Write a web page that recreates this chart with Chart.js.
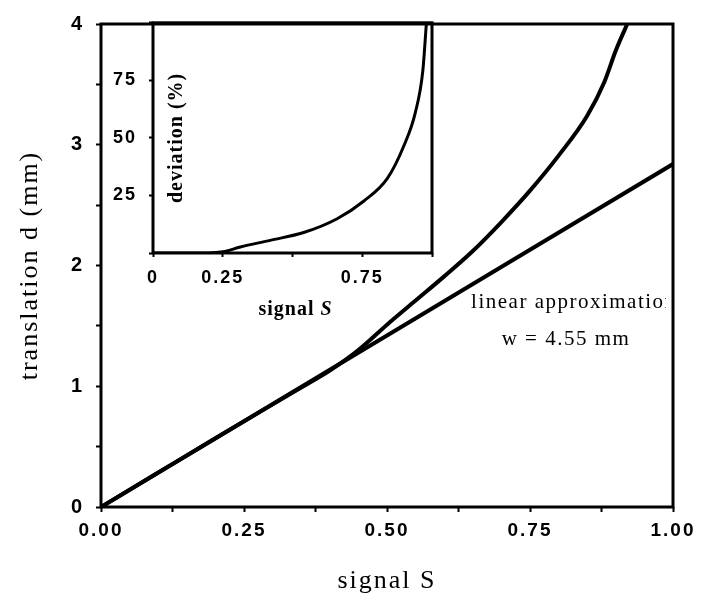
<!DOCTYPE html>
<html>
<head>
<meta charset="utf-8">
<script src="https://cdn.jsdelivr.net/npm/chart.js@4/dist/chart.umd.min.js"></script>
<style>
  body { margin: 0; background: #fff; }
  #wrap { position: relative; width: 717px; height: 606px; }
  #main-chart { position: absolute; left: 0; top: 0; }
  #inset-chart { position: absolute; left: 100px; top: 0; }
</style>
</head>
<body>
<div id="wrap">
  <canvas id="main-chart" width="717" height="606"></canvas>
  <canvas id="inset-chart" width="350" height="330"></canvas>
</div>
<script>
// measured translation d (mm) against signal S
const signalS = [0, 0.1, 0.2, 0.3, 0.35, 0.4, 0.45, 0.5, 0.55, 0.6, 0.65, 0.7, 0.75, 0.8, 0.85, 0.88, 0.9, 0.92];
const translationD = [0, 0.285, 0.57, 0.85, 0.99, 1.13, 1.30, 1.51, 1.71, 1.91, 2.12, 2.36, 2.62, 2.91, 3.24, 3.52, 3.78, 4.0];

// linear approximation, w = 4.55 mm
const linearS = [0, 0.25, 0.5, 0.75, 1];
const linearD = [0, 0.71, 1.42, 2.13, 2.84];

// inset: deviation from the linear approximation (%)
const insetS = [0, 0.1, 0.2, 0.25, 0.313, 0.42, 0.54, 0.66, 0.756, 0.84, 0.9, 0.94, 0.967, 0.98];
const deviation = [0, 0, 0, 0.5, 2.6, 5.5, 8.9, 14.9, 22.6, 32.4, 46.8, 60.9, 79, 100];

// labelled ticks
const xLabelsMain = [0, 0.25, 0.5, 0.75, 1];
const yLabelsMain = [0, 1, 2, 3, 4];
const xLabelsInset = [0, 0.25, 0.75];
const yLabelsInset = [25, 50, 75];

const toPoints = (xs, ys) => xs.map((x, i) => ({ x: x, y: ys[i] }));

// old-style wide lettering for the axis text
const spacing = {
    id: 'spacing',
    beforeDraw(chart) {
        chart.ctx.letterSpacing = '2px';
    }
};

// box round the plot area
const frame = {
    id: 'frame',
    afterDatasetsDraw(chart, args, opts) {
        const { ctx, chartArea: a } = chart;
        ctx.save();
        ctx.strokeStyle = '#000';
        ctx.lineWidth = opts.width || 3;
        ctx.strokeRect(a.left, a.top, a.right - a.left, a.bottom - a.top);
        ctx.restore();
    }
};

// text placed at data coordinates, cut off at the right edge of the plot
const notes = {
    id: 'notes',
    afterDraw(chart, args, opts) {
        const { ctx, chartArea: a, scales: { x, y } } = chart;
        ctx.save();
        ctx.beginPath();
        ctx.rect(a.left, a.top, a.right - a.left - 7, a.bottom - a.top);
        ctx.clip();
        ctx.fillStyle = '#000';
        ctx.font = opts.font;
        ctx.letterSpacing = '1.5px';
        ctx.textBaseline = 'middle';
        opts.lines.forEach(l => {
            ctx.textAlign = l.align;
            ctx.fillText(l.text, x.getPixelForValue(l.at[0]), y.getPixelForValue(l.at[1]));
        });
        ctx.restore();
    }
};

// inset axis titles: "signal S" with italic S, "deviation (%)" inside the box
const insetTitles = {
    id: 'insetTitles',
    afterDraw(chart) {
        const { ctx, chartArea: a } = chart;
        const upright = 'bold 20px "Liberation Serif"';
        const italic = 'italic bold 20px "Liberation Serif"';
        ctx.save();
        ctx.fillStyle = '#000';
        ctx.letterSpacing = '1px';
        ctx.textBaseline = 'middle';
        ctx.textAlign = 'left';
        ctx.font = upright;
        const w1 = ctx.measureText('signal ').width;
        ctx.font = italic;
        const w2 = ctx.measureText('S').width;
        const x0 = (a.left + a.right) / 2 - (w1 + w2) / 2 + 3;
        const ty = a.bottom + 57;
        ctx.font = upright;
        ctx.fillText('signal ', x0, ty);
        ctx.font = italic;
        ctx.fillText('S', x0 + w1, ty);

        ctx.translate(a.left + 24, (a.top + a.bottom) / 2);
        ctx.rotate(-Math.PI / 2);
        ctx.textAlign = 'center';
        ctx.font = upright;
        ctx.fillText('deviation (%)', 0, 0);
        ctx.restore();
    }
};

const tickGrid = (len) => ({
    drawOnChartArea: false,
    tickLength: len,
    tickWidth: 2,
    color: '#000'
});

new Chart(document.getElementById('main-chart'), {
    type: 'line',
    data: {
        datasets: [{
            data: toPoints(signalS, translationD),
            borderColor: '#000',
            borderWidth: 4,
            pointRadius: 0,
            cubicInterpolationMode: 'monotone'
        }, {
            data: toPoints(linearS, linearD),
            borderColor: '#000',
            borderWidth: 4,
            pointRadius: 0
        }]
    },
    options: {
        responsive: false,
        animation: false,
        devicePixelRatio: 1,
        layout: { padding: { top: 17, right: 44, left: 0, bottom: 0 } },
        plugins: {
            legend: { display: false },
            tooltip: { enabled: false },
            frame: { width: 3 },
            notes: {
                font: '21px "Liberation Serif"',
                lines: [
                    { text: 'linear approximation', at: [0.647, 1.69], align: 'left' },
                    { text: 'w = 4.55 mm', at: [0.813, 1.39], align: 'center' }
                ]
            }
        },
        scales: {
            x: {
                type: 'linear',
                min: 0,
                max: 1,
                afterFit: s => { s.height = 99; },
                border: { display: false },
                grid: tickGrid(5),
                ticks: {
                    stepSize: 0.125,
                    autoSkip: false,
                    maxRotation: 0,
                    padding: 7,
                    color: '#000',
                    font: { family: 'Liberation Sans', size: 19, weight: 'bold' },
                    callback: v => xLabelsMain.includes(v) ? v.toFixed(2) : ''
                },
                title: {
                    display: true,
                    text: 'signal S',
                    color: '#000',
                    font: { family: 'Liberation Serif', size: 26 },
                    padding: { top: 0, bottom: 9 }
                }
            },
            y: {
                min: 0,
                max: 4,
                afterFit: s => { s.width = 101; },
                border: { display: false },
                grid: tickGrid(5),
                ticks: {
                    stepSize: 0.5,
                    autoSkip: false,
                    padding: 12,
                    color: '#000',
                    font: { family: 'Liberation Sans', size: 20, weight: 'bold' },
                    callback: v => yLabelsMain.includes(v) ? String(v) : ''
                },
                title: {
                    display: true,
                    text: 'translation d (mm)',
                    color: '#000',
                    font: { family: 'Liberation Serif', size: 26 },
                    padding: { top: 15, bottom: 0 }
                }
            }
        }
    },
    plugins: [spacing, frame, notes]
});

new Chart(document.getElementById('inset-chart'), {
    type: 'line',
    data: {
        datasets: [{
            data: toPoints(insetS, deviation),
            borderColor: '#000',
            borderWidth: 3,
            pointRadius: 0,
            cubicInterpolationMode: 'monotone'
        }]
    },
    options: {
        responsive: false,
        animation: false,
        devicePixelRatio: 1,
        layout: { padding: { top: 17, right: 18, left: 0, bottom: 0 } },
        plugins: {
            legend: { display: false },
            tooltip: { enabled: false },
            frame: { width: 3 }
        },
        scales: {
            x: {
                type: 'linear',
                min: 0,
                max: 1,
                afterFit: s => { s.height = 77; },
                border: { display: false },
                grid: tickGrid(4),
                ticks: {
                    stepSize: 0.25,
                    autoSkip: false,
                    maxRotation: 0,
                    padding: 10,
                    color: '#000',
                    font: { family: 'Liberation Sans', size: 18, weight: 'bold' },
                    callback: v => xLabelsInset.includes(v) ? String(v) : ''
                }
            },
            y: {
                min: 0,
                max: 100,
                afterFit: s => { s.width = 53; },
                border: { display: false },
                grid: tickGrid(4),
                ticks: {
                    stepSize: 25,
                    autoSkip: false,
                    padding: 12,
                    color: '#000',
                    font: { family: 'Liberation Sans', size: 18, weight: 'bold' },
                    callback: v => yLabelsInset.includes(v) ? String(v) : ''
                }
            }
        }
    },
    plugins: [spacing, frame, insetTitles]
});
</script>
</body>
</html>
